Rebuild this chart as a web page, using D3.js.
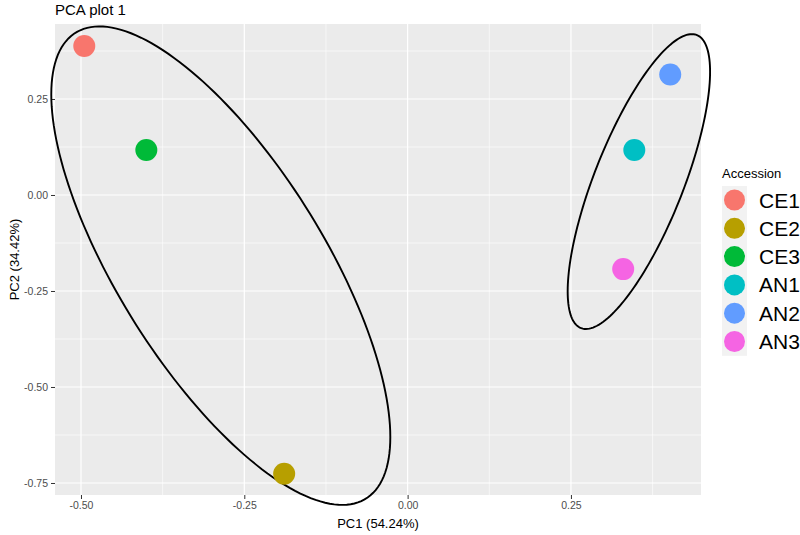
<!DOCTYPE html>
<html>
<head>
<meta charset="utf-8">
<script src="https://cdn.jsdelivr.net/npm/d3@7"></script>
<style>
body { margin:0; background:#fff; }
text { font-family: "Liberation Sans", Arial, sans-serif; }
</style>
</head>
<body>
<script>
// samples
var accessions = ["CE1","CE2","CE3","AN1","AN2","AN3"];
var pc1 = [-0.495, -0.189, -0.400, 0.347, 0.402, 0.330];
var pc2 = [0.388, -0.726, 0.117, 0.117, 0.314, -0.193];
var colors = ["#F8766D","#B79F00","#00BA38","#00BFC4","#619CFF","#F564E3"];

// ellipses (centre, half-width, half-height, correlation) in data units
var ellipseGroups = ["CE","AN"];
var ellipseCx = [-0.286, 0.354];
var ellipseCy = [-0.184, 0.035];
var ellipseSx = [0.2595, 0.109];
var ellipseSy = [0.623, 0.384];
var ellipseRho = [-0.716, 0.744];

var xTicks = [-0.50, -0.25, 0.00, 0.25];
var yTicks = [-0.75, -0.50, -0.25, 0.00, 0.25];
var xMinor = [-0.375, -0.125, 0.125, 0.375];
var yMinor = [-0.625, -0.375, -0.125, 0.125, 0.375];

var margin = {left:55, top:24};
var width = 646;
var height = 471;

var x = d3.scaleLinear().domain([-0.5398, 0.4491]).range([0, width]);
var y = d3.scaleLinear().domain([-0.78125, 0.4453]).range([height, 0]);

var svg = d3.select("body").append("svg").attr("width",800).attr("height",535);

svg.append("text").attr("x",55).attr("y",15).attr("font-size","15px").attr("fill","#000").text("PCA plot 1");

var chartGroup = svg.append("g").attr("transform","translate("+margin.left+","+margin.top+")");

chartGroup.append("rect").attr("width",width).attr("height",height).attr("fill","#EBEBEB");

// grid
chartGroup.selectAll(".xminor").data(xMinor).enter().append("line")
  .attr("x1",d => x(d)).attr("x2",d => x(d)).attr("y1",0).attr("y2",height)
  .attr("stroke","#fff").attr("stroke-width",0.6);
chartGroup.selectAll(".yminor").data(yMinor).enter().append("line")
  .attr("y1",d => y(d)).attr("y2",d => y(d)).attr("x1",0).attr("x2",width)
  .attr("stroke","#fff").attr("stroke-width",0.6);
chartGroup.selectAll(".xmajor").data(xTicks).enter().append("line")
  .attr("x1",d => x(d)).attr("x2",d => x(d)).attr("y1",0).attr("y2",height)
  .attr("stroke","#fff").attr("stroke-width",1.2);
chartGroup.selectAll(".ymajor").data(yTicks).enter().append("line")
  .attr("y1",d => y(d)).attr("y2",d => y(d)).attr("x1",0).attr("x2",width)
  .attr("stroke","#fff").attr("stroke-width",1.2);

// axes
var xAxis = d3.axisBottom(x).tickValues(xTicks).tickFormat(d3.format(".2f")).tickSize(4).tickPadding(3);
var yAxis = d3.axisLeft(y).tickValues(yTicks).tickFormat(d3.format(".2f")).tickSize(4).tickPadding(3);

var gx = chartGroup.append("g").attr("transform","translate(0,"+height+")").call(xAxis);
var gy = chartGroup.append("g").call(yAxis);
[gx, gy].forEach(function(g){
  g.select(".domain").remove();
  g.selectAll(".tick line").attr("stroke","#333").attr("stroke-width",1);
  g.selectAll(".tick text").attr("fill","#4D4D4D").attr("font-size","10.5px")
   .attr("font-family","'Liberation Sans', Arial, sans-serif");
});
// ggplot uses a plain hyphen for negatives
gx.selectAll(".tick text").text(d => d3.format(".2f")(d).replace("\u2212","-"));
gy.selectAll(".tick text").text(d => d3.format(".2f")(d).replace("\u2212","-"));

// ellipses
var ellipseLine = d3.line().x(d => x(d[0])).y(d => y(d[1])).curve(d3.curveLinearClosed);
ellipseGroups.forEach(function(g, i){
  var pts = d3.range(0, 360, 2).map(function(a){
    var t = a * Math.PI / 180;
    return [ellipseCx[i] + ellipseSx[i]*Math.cos(t),
            ellipseCy[i] + ellipseSy[i]*(ellipseRho[i]*Math.cos(t) + Math.sqrt(1-ellipseRho[i]*ellipseRho[i])*Math.sin(t))];
  });
  chartGroup.append("path").attr("d",ellipseLine(pts)).attr("fill","none")
    .attr("stroke","#000").attr("stroke-width",1.9);
});

// points
chartGroup.selectAll(".pt").data(accessions).enter().append("circle")
  .attr("cx",(d,i) => x(pc1[i])).attr("cy",(d,i) => y(pc2[i])).attr("r",11)
  .attr("fill",(d,i) => colors[i]);

// axis titles
svg.append("text").attr("x",margin.left+width/2).attr("y",528).attr("text-anchor","middle")
  .attr("font-size","13px").attr("fill","#000").text("PC1 (54.24%)");
svg.append("text").attr("transform","translate(19,"+(margin.top+height/2)+") rotate(-90)")
  .attr("text-anchor","middle").attr("font-size","13px").attr("fill","#000").text("PC2 (34.42%)");

// legend
var legend = svg.append("g").attr("transform","translate(722,186)");
legend.append("text").attr("x",0).attr("y",-8).attr("font-size","13px").attr("fill","#000").text("Accession");
legend.append("rect").attr("width",25).attr("height",accessions.length*28.3).attr("fill","#F2F2F2");
var item = legend.selectAll(".item").data(accessions).enter().append("g")
  .attr("transform",(d,i) => "translate(0,"+(14+i*28.3)+")");
item.append("circle").attr("cx",12.5).attr("cy",0).attr("r",10.5).attr("fill",(d,i) => colors[i]);
item.append("text").attr("x",37).attr("dy","0.36em").attr("font-size","21px")
  .attr("font-family","Lato, 'Open Sans', sans-serif").attr("fill","#000").text(d => d);
</script>
</body>
</html>
